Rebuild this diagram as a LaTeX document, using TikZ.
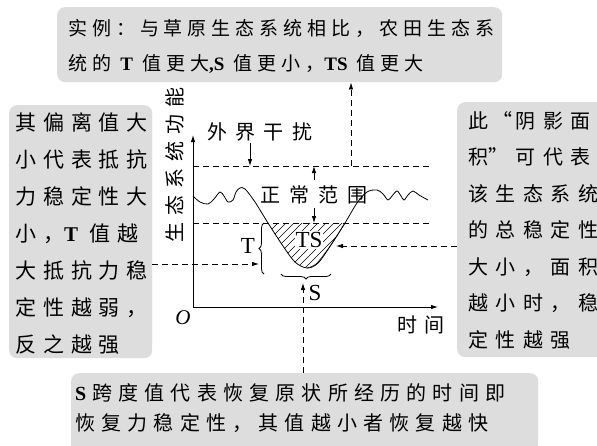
\documentclass[tikz,border=0pt]{standalone}
\usepackage{fontspec}
\setmainfont{Noto Sans CJK SC}
\newfontfamily\lat{Liberation Serif}
\usetikzlibrary{arrows.meta,decorations.pathreplacing}
\definecolor{boxgray}{RGB}{221,221,221}
\newcommand\cjkfont[3]{\fontsize{#1}{#2}\selectfont\addfontfeature{LetterSpace=#3}}
\newcommand\latb[1]{{\lat\bfseries #1}}
\begin{document}
\begin{tikzpicture}[x=1pt,y=-1pt,
  graybox/.style={fill=boxgray, rounded corners=8pt, inner sep=0, anchor=north west},
  boxtext/.style={anchor=north west, inner sep=0, align=left},
  lab/.style={inner sep=0, anchor=west},
  ax/.style={line width=0.9pt, -{Latex[length=7pt,width=4.5pt]}},
  thin/.style={line width=0.8pt},
  dline/.style={line width=0.8pt, dash pattern=on 6pt off 4pt},
  darr/.style={dline, -{Latex[length=7pt,width=4.5pt]}},
  arr/.style={thin, -{Latex[length=7pt,width=4.5pt]}},
  brc/.style={thin, decorate, decoration={brace, amplitude=5pt}},
  latlab/.style={inner sep=0, font=\fontsize{23}{23}\selectfont\lat}]
\clip (0,0) rectangle (597,445);
\fill[white] (0,0) rectangle (597,445);
% boxes
\node[graybox, minimum width=445pt, minimum height=75pt] (tbox) at (57,7) {};
\node[graybox, minimum width=143pt, minimum height=253pt] (lbox) at (9,105) {};
\node[graybox, minimum width=160pt, minimum height=255pt] (rbox) at (457,102) {};
\node[graybox, minimum width=467pt, minimum height=100pt] (bbox) at (71,373) {};
% box texts
\node[boxtext, font=\cjkfont{19}{35}{26}] (ttxt) at (68,19)
  {实例：与草原生态系统相比，农田生态系\\统的 \latb{T} 值更大\latb{,S} 值更小，\latb{TS} 值更大};
\node[boxtext, font=\cjkfont{21}{37}{33}] (ltxt) at (15,113)
  {其偏离值大\\小代表抵抗\\力稳定性大\\小，\latb{T} 值越\\大抵抗力稳\\定性越弱，\\反之越强};
\node[boxtext, font=\cjkfont{20}{36.5}{37.5}] (rtxt) at (468,111)
  {此\makebox[27.5pt][r]{“\kern3pt}阴影面\\积\makebox[27.5pt][l]{”}可代表\\该生态系统\\的总稳定性\\大小，面积\\越小时，稳\\定性越强};
\node[boxtext, font=\cjkfont{20}{30}{31}] (btxt) at (75,383)
  {\latb{S}\hspace{6pt}跨度值代表恢复原状所经历的时间即\\恢复力稳定性，其值越小者恢复越快};
% axes
\coordinate (orig) at (193,307);
\coordinate (ytip) at (193,135);
\coordinate (xtip) at (438,307);
\draw[ax] (orig) -- (ytip);
\draw[ax] (orig) -- (xtip);
\node[inner sep=0, font=\fontsize{21}{21}\selectfont\lat\itshape] (olab) at (183,318) {O};
\node[lab, font=\cjkfont{20}{20}{35}] (tlab) at (397,325) {时间};
\node[inner sep=0, rotate=90, font=\cjkfont{20}{20}{35}] (ylab) at (175,165) {生态系统功能};
% dashed range lines
\coordinate (u1) at (193,166); \coordinate (u2) at (430,166);
\coordinate (l1) at (193,223); \coordinate (l2) at (430,223);
\draw[dline] (u1) -- (u2);
\draw[dline] (l1) -- (l2);
% disturbance
\node[lab, font=\cjkfont{20}{20}{42}] (ext) at (207,132) {外界干扰};
\coordinate (extarr) at (250,143);
\draw[arr] (extarr) -- (extarr |- u1);
% normal range
\node[lab, font=\cjkfont{20}{20}{45}] (norm) at (260,195) {正常范围};
\coordinate (na) at (314,180); \coordinate (nb) at (314,208);
\draw[arr] (na) -- (na |- u1);
\draw[arr] (nb) -- (nb |- l1);
% hatched area
\begin{scope}
\clip (250,223) rectangle (360,285);
\clip plot[smooth, tension=0.55] coordinates {(193,196) (200,202) (208,204) (214,199) (220,192) (224,196) (228,202) (233,200) (236,192) (240,188) (245,189) (255,202) (268,223) (283,246) (295,262) (307,268) (318,263) (331,245) (345,223) (357,203) (367,192) (377,190) (383,194) (388,200) (392,196) (397,191) (401,196) (404,200) (408,195) (413,191) (419,195) (428,200)} -- (428,140) -- (193,140) -- cycle;
\foreach \k in {216,224,...,352} \draw[line width=0.6pt] (\k,285) -- ++(70,-70);
\end{scope}
% curve
\draw[thin] plot[smooth, tension=0.55] coordinates {(193,196) (200,202) (208,204) (214,199) (220,192) (224,196) (228,202) (233,200) (236,192) (240,188) (245,189) (255,202) (268,223) (283,246) (295,262) (307,268) (318,263) (331,245) (345,223) (357,203) (367,192) (377,190) (383,194) (388,200) (392,196) (397,191) (401,196) (404,200) (408,195) (413,191) (419,195) (428,200)};
\draw[line width=0.5pt] plot[smooth] coordinates {(307,268) (316,264) (328,249) (338,234) (345,223)};
\node[latlab, fill=white, inner sep=1pt] (ts) at (309,240) {TS};
% braces
\coordinate (tb1) at (264,274); \coordinate (tb2) at (264,223);
\draw[brc] (tb1) -- (tb2);
\node[latlab] (tl) at (248,246) {T};
\coordinate (sb1) at (331,274); \coordinate (sb2) at (281,274);
\draw[brc] (sb1) -- (sb2);
\node[latlab] (sl) at (315,293) {S};
% connectors from boxes
\coordinate (tipT) at (259,264);
\draw[darr] (lbox.east |- tipT) -- (tipT);
\coordinate (tipTS) at (336,246);
\draw[darr] (rbox.west |- tipTS) -- (tipTS);
\coordinate (tipS) at (303,283);
\draw[darr] (bbox.north -| tipS) -- (tipS);
\coordinate (upst) at (351,166);
\draw[darr] (upst) -- (upst |- tbox.south);
\end{tikzpicture}
\end{document}
